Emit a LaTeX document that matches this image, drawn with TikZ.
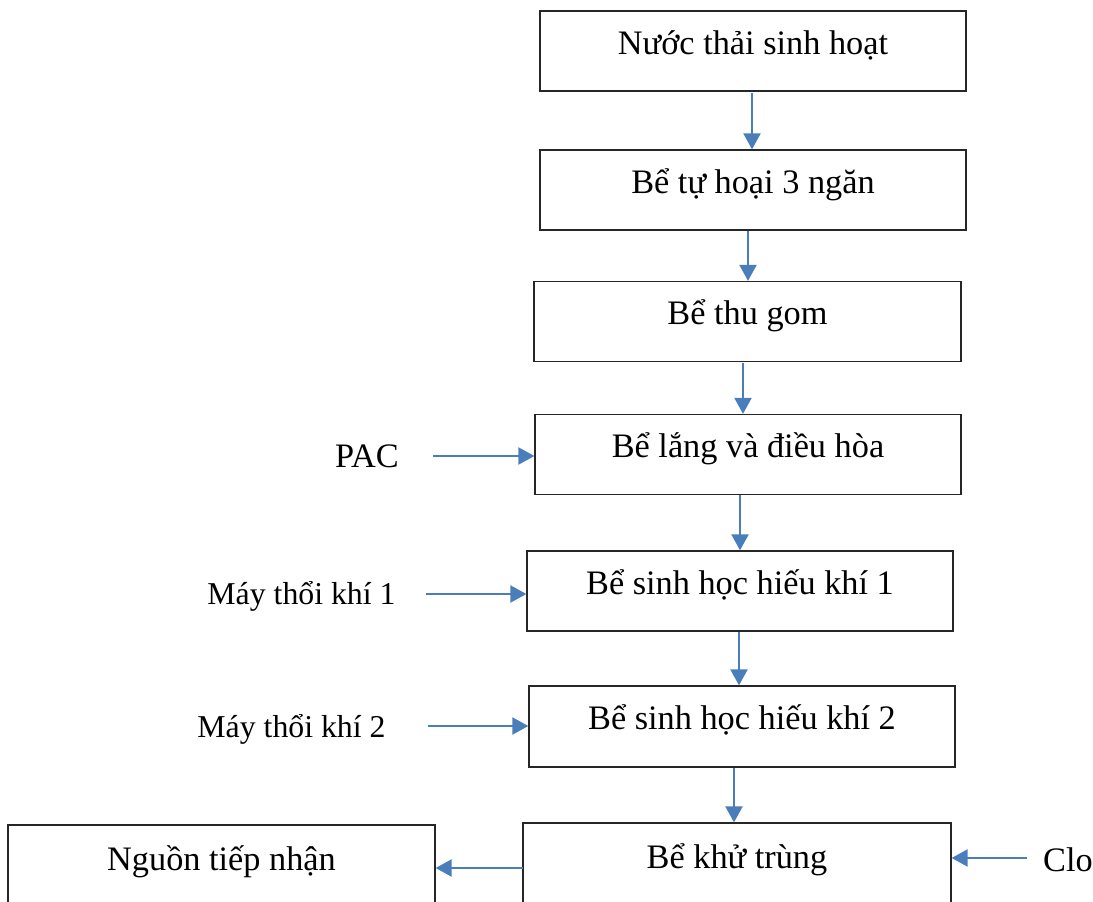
\documentclass[tikz,border=0pt]{standalone}
\usepackage{fontspec}
\setmainfont{Liberation Serif}
\usetikzlibrary{arrows.meta}
\definecolor{arrblue}{RGB}{74,126,187}
\begin{document}
\begin{tikzpicture}[x=1pt,y=-1pt,
 box/.style={draw=black!85, line width=1.3pt, rectangle, inner sep=0pt, minimum width=426pt, minimum height=80pt, text height=28pt, text depth=22pt, font=\fontsize{34.3}{40}\selectfont},
 tallbox/.style={box, minimum height=100pt, text height=33pt, text depth=43pt},
 lbl/.style={font=\fontsize{34.3}{40}\selectfont, inner sep=0pt, anchor=base},
 smalllbl/.style={lbl, font=\fontsize{31.8}{38}\selectfont},
 arr/.style={draw=arrblue, line width=2.2pt, -{Triangle[length=16pt,width=17pt]}}]
\useasboundingbox (0,0) rectangle (1093,902);
\clip (0,0) rectangle (1093,902);
% boxes
\node[box] (b1) at (753,51) {Nước thải sinh hoạt};
\node[box] (b2) at (753,190) {Bể tự hoại 3 ngăn};
\node[box, minimum width=427pt] (b3) at (747.5,321.5) {Bể thu gom};
\node[box] (b4) at (748,454.5) {Bể lắng và điều hòa};
\node[box] (b5) at (740,591) {Bể sinh học hiếu khí 1};
\node[box, minimum height=81pt] (b6) at (742,726.5) {Bể sinh học hiếu khí 2};
\node[tallbox, minimum width=428pt] (b7) at (737,873) {Bể khử trùng};
\node[tallbox, minimum width=427pt] (b8) at (221.5,875) {Nguồn tiếp nhận};
% side labels
\node[lbl] (pac) at (367,467) {PAC};
\node[smalllbl] (m1) at (301.5,604) {Máy thổi khí 1};
\node[smalllbl] (m2) at (291.5,737) {Máy thổi khí 2};
\node[lbl] (clo) at (1068,871) {Clo};
% vertical flow arrows
\coordinate (v1) at (752,93);
\coordinate (v2) at (748,231);
\coordinate (v3) at (743,363);
\coordinate (v4) at (740,495);
\coordinate (v5) at (739,632);
\coordinate (v6) at (734,768);
\draw[arr] (v1) -- (v1 |- b2.north);
\draw[arr] (v2) -- (v2 |- b3.north);
\draw[arr] (v3) -- (v3 |- b4.north);
\draw[arr] (v4) -- (v4 |- b5.north);
\draw[arr] (v5) -- (v5 |- b6.north);
\draw[arr] (v6) -- (v6 |- b7.north);
% side input arrows
\coordinate (hpac) at (433,456);
\coordinate (hm1) at (426,594);
\coordinate (hm2) at (428,726);
\coordinate (hclo) at (1027,858);
\coordinate (hout) at (523,868);
\draw[arr] (hpac) -- (hpac -| b4.west);
\draw[arr] (hm1) -- (hm1 -| b5.west);
\draw[arr] (hm2) -- (hm2 -| b6.west);
\draw[arr] (hclo) -- (hclo -| b7.east);
\draw[arr] (hout) -- (hout -| b8.east);
\end{tikzpicture}
\end{document}
